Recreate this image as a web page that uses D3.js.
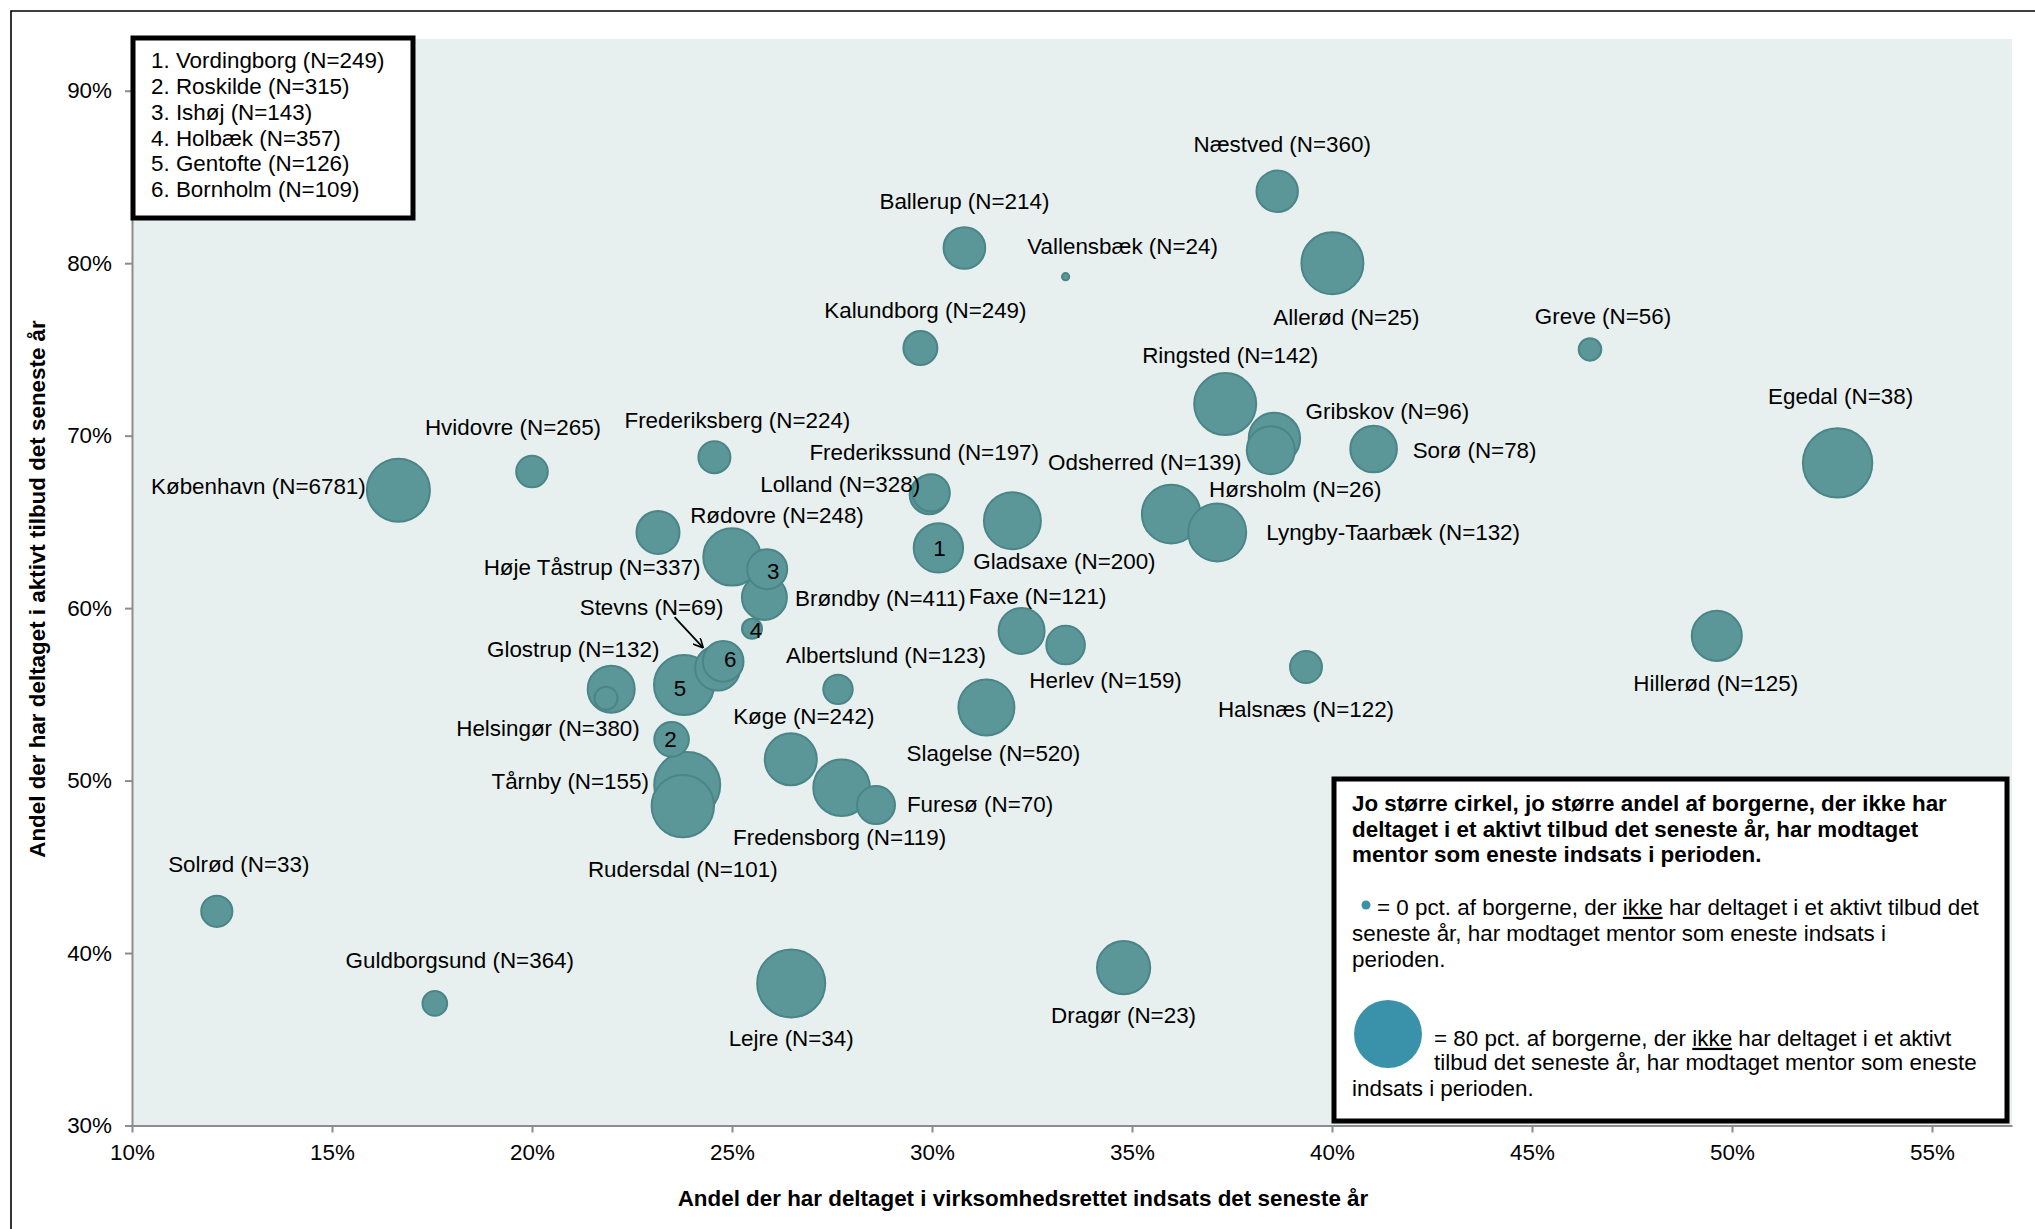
<!DOCTYPE html>
<html>
<head>
<meta charset="utf-8">
<script src="https://cdn.jsdelivr.net/npm/d3@7/dist/d3.min.js"></script>
<style>
    body { margin: 0; background: #fff; }
    svg text { font-family: "Liberation Sans", Arial, Helvetica, sans-serif; fill: #000; }
</style>
</head>
<body>
<svg id="chart" width="2035" height="1229"></svg>
<script>
// Kommuner, antal borgere (N) og andele
const municipalities = [
    "København", "Hvidovre", "Frederiksberg", "Rødovre", "Høje Tåstrup", "Ishøj",
    "Brøndby", "Holbæk", "Glostrup", "Helsingør", "Gentofte", "Bornholm",
    "Stevns", "Roskilde", "Tårnby", "Rudersdal", "Albertslund", "Køge",
    "Fredensborg", "Furesø", "Slagelse", "Faxe", "Herlev", "Halsnæs",
    "Lejre", "Dragør", "Næstved", "Allerød", "Greve", "Ringsted",
    "Gribskov", "Odsherred", "Sorø", "Hørsholm", "Lyngby-Taarbæk", "Egedal",
    "Hillerød", "Ballerup", "Vallensbæk", "Kalundborg", "Lolland", "Frederikssund",
    "Vordingborg", "Gladsaxe", "Solrød", "Guldborgsund"
];
const nValues = [
    6781, 265, 224, 248, 337, 143,
    411, 357, 132, 380, 126, 109,
    69, 315, 155, 101, 123, 242,
    119, 70, 520, 121, 159, 122,
    34, 23, 360, 25, 56, 142,
    96, 139, 78, 26, 132, 38,
    125, 214, 24, 249, 328, 197,
    249, 200, 33, 364
];
// x: andel der har deltaget i virksomhedsrettet indsats
const virksomhedShare = [
    0.1666, 0.2000, 0.2456, 0.2315, 0.2500, 0.2588,
    0.2581, 0.2550, 0.2198, 0.2185, 0.2380, 0.2478,
    0.2464, 0.2349, 0.2388, 0.2377, 0.2765, 0.2647,
    0.2774, 0.2860, 0.3136, 0.3224, 0.3334, 0.3935,
    0.2648, 0.3479, 0.3863, 0.4001, 0.4645, 0.3733,
    0.3856, 0.3847, 0.4104, 0.3598, 0.3713, 0.5264,
    0.4962, 0.3081, 0.3334, 0.2971, 0.2993, 0.2998,
    0.3016, 0.3201, 0.1212, 0.1757
];
// y: andel der har deltaget i aktivt tilbud
const aktivtShare = [
    0.6684, 0.6792, 0.6875, 0.6439, 0.6297, 0.6226,
    0.6062, 0.5881, 0.5530, 0.5477, 0.5554, 0.5691,
    0.5652, 0.5239, 0.4974, 0.4852, 0.5529, 0.5123,
    0.4958, 0.4858, 0.5424, 0.5868, 0.5786, 0.5658,
    0.3824, 0.3915, 0.8417, 0.8000, 0.7500, 0.7183,
    0.6984, 0.6916, 0.6923, 0.6545, 0.6439, 0.6842,
    0.5839, 0.8088, 0.7922, 0.7508, 0.6658, 0.6668,
    0.6349, 0.6507, 0.4242, 0.3708
];
// boblestørrelse: andel med mentor som eneste indsats
const mentorShare = [
    0.687, 0.173, 0.177, 0.320, 0.570, 0.277,
    0.350, 0.069, 0.382, 0.092, 0.623, 0.285,
    0.350, 0.207, 0.754, 0.674, 0.150, 0.468,
    0.554, 0.250, 0.543, 0.366, 0.258, 0.177,
    0.800, 0.490, 0.297, 0.665, 0.088, 0.665,
    0.457, 0.399, 0.376, 0.594, 0.582, 0.833,
    0.433, 0.300, 0.009, 0.200, 0.263, 0.240,
    0.422, 0.562, 0.168, 0.105
];
// nummererede kommuner (vist med tal i boblen)
const numberedNames = ["Vordingborg", "Roskilde", "Ishøj", "Holbæk", "Gentofte", "Bornholm"];

const xTicks = [0.10, 0.15, 0.20, 0.25, 0.30, 0.35, 0.40, 0.45, 0.50, 0.55];
const yTicks = [0.30, 0.40, 0.50, 0.60, 0.70, 0.80, 0.90];

// label placering, pixel-forskydning fra boblens centrum
const labelOffsets = [
    [-140, -4], [-19, -44], [23, -37], [119, -17], [-140, 10], [6, 2],
    [116, 1], [4, 2], [-38, -40], [-58, 30], [-4, 3], [7, -2],
    [-66, -61], [-1, 0], [-117, -4], [0, 63], [48, -34], [13, -43],
    [-2, 49], [104, -1], [7, 46], [16, -35], [40, 35], [0, 42],
    [0, 55], [0, 47], [5, -47], [14, 54], [13, -33], [5, -49],
    [113, -27], [-126, 12], [101, 1], [124, -25], [176, 0], [3, -67],
    [-1, 47], [0, -47], [57, -30], [5, -38], [-89, -10], [-7, -41],
    [1, 0], [52, 40], [22, -47], [25, -43]
];

const data = municipalities.map((name, i) => ({
    name: name,
    n: nValues[i],
    x: virksomhedShare[i],
    y: aktivtShare[i],
    size: mentorShare[i],
    num: numberedNames.indexOf(name) + 1,
    off: labelOffsets[i]
}));

const svg = d3.select("#chart");
const plot = {left: 132, right: 2012, top: 39, bottom: 1125.5};
const FONT = 22.4;

const x = d3.scaleLinear().domain([0.10, 0.57]).range([plot.left, plot.right]);
const y = d3.scaleLinear().domain([0.30, 0.93]).range([plot.bottom, plot.top]);
const r = d3.scaleSqrt().domain([0, 0.8]).range([0, 34]);

// ydre ramme
svg.append("path")
    .attr("d", "M11,1229V11H2035")
    .attr("fill", "none")
    .attr("stroke", "#000")
    .attr("stroke-width", 1.6);

// plotområde
svg.append("rect")
    .attr("x", plot.left).attr("y", plot.top)
    .attr("width", plot.right - plot.left)
    .attr("height", plot.bottom - plot.top)
    .attr("fill", "#e8f0ef");

// akser
const xAxis = svg.append("g")
    .attr("transform", `translate(0,${plot.bottom})`)
    .call(d3.axisBottom(x).tickValues(xTicks).tickFormat(d3.format(".0%")).tickSize(7).tickPadding(12).tickSizeOuter(0));
const yAxis = svg.append("g")
    .attr("transform", `translate(${plot.left},0)`)
    .call(d3.axisLeft(y).tickValues(yTicks).tickFormat(d3.format(".0%")).tickSize(7).tickPadding(13).tickSizeOuter(0));

[xAxis, yAxis].forEach(ax => {
    ax.select(".domain").attr("stroke", "#8c8c8c").attr("stroke-width", 2);
    ax.selectAll(".tick line").attr("stroke", "#8c8c8c").attr("stroke-width", 2);
    ax.selectAll(".tick text").attr("font-size", FONT).attr("fill", "#000")
        .style("font-family", '"Liberation Sans", Arial, sans-serif');
});

// aksetitler
svg.append("text")
    .attr("x", 1023).attr("y", 1198)
    .attr("text-anchor", "middle").attr("dy", "0.35em")
    .attr("font-size", FONT).attr("font-weight", "bold")
    .text("Andel der har deltaget i virksomhedsrettet indsats det seneste år");
svg.append("text")
    .attr("transform", "translate(37,589) rotate(-90)")
    .attr("text-anchor", "middle").attr("dy", "0.35em")
    .attr("font-size", FONT).attr("font-weight", "bold")
    .text("Andel der har deltaget i aktivt tilbud det seneste år");

// bobler, største først
const sorted = data.slice().sort((a, b) => b.size - a.size);
svg.append("g").selectAll("circle")
    .data(sorted)
    .enter().append("circle")
    .attr("cx", d => x(d.x))
    .attr("cy", d => y(d.y))
    .attr("r", d => r(d.size))
    .attr("fill", "#5b9699")
    .attr("stroke", "#4a8587")
    .attr("stroke-width", 2);

// labels
svg.append("g").selectAll("text")
    .data(data)
    .enter().append("text")
    .attr("x", d => x(d.x) + d.off[0])
    .attr("y", d => y(d.y) + d.off[1])
    .attr("text-anchor", "middle")
    .attr("dy", "0.35em")
    .attr("font-size", FONT)
    .text(d => d.num ? d.num : `${d.name} (N=${d.n})`);

// pil for Stevns
svg.append("defs").append("marker")
    .attr("id", "arrow")
    .attr("viewBox", "0 0 10 10")
    .attr("refX", 9).attr("refY", 5)
    .attr("markerWidth", 10).attr("markerHeight", 10)
    .attr("markerUnits", "userSpaceOnUse")
    .attr("orient", "auto")
    .append("path")
    .attr("d", "M0,0L10,5L0,10")
    .attr("fill", "none").attr("stroke", "#000").attr("stroke-width", 1.6);
const stevns = data.find(d => d.name === "Stevns");
svg.append("line")
    .attr("x1", x(stevns.x) - 43).attr("y1", y(stevns.y) - 51)
    .attr("x2", x(stevns.x) - 15).attr("y2", y(stevns.y) - 21)
    .attr("stroke", "#000").attr("stroke-width", 1.8)
    .attr("marker-end", "url(#arrow)");

// forklaring 1: nummererede kommuner
const leg1 = svg.append("g");
leg1.append("rect")
    .attr("x", 133).attr("y", 38).attr("width", 280).attr("height", 180)
    .attr("fill", "#fff").attr("stroke", "#000").attr("stroke-width", 5);
numberedNames.forEach((name, i) => {
    const d = data.find(e => e.name === name);
    leg1.append("text")
        .attr("x", 151).attr("y", 60 + i * 25.9)
        .attr("dy", "0.35em")
        .attr("font-size", FONT)
        .text(`${i + 1}. ${name} (N=${d.n})`);
});

// forklaring 2: boblestørrelse
const leg2 = svg.append("g");
leg2.append("rect")
    .attr("x", 1334).attr("y", 779).attr("width", 673).attr("height", 342)
    .attr("fill", "#fff").attr("stroke", "#000").attr("stroke-width", 5);
const heading = [
    "Jo større cirkel, jo større andel af borgerne, der ikke har",
    "deltaget i et aktivt tilbud det seneste år, har modtaget",
    "mentor som eneste indsats i perioden."
];
heading.forEach((t, i) => {
    leg2.append("text")
        .attr("x", 1352).attr("y", 803 + i * 25.8).attr("dy", "0.35em")
        .attr("font-size", FONT).attr("font-weight", "bold")
        .text(t);
});
const sizeKey = [0, 0.8];
leg2.append("circle")
    .attr("cx", 1366).attr("cy", 905).attr("r", Math.max(r(sizeKey[0]), 4.5))
    .attr("fill", "#3a92aa");
leg2.append("circle")
    .attr("cx", 1388).attr("cy", 1034).attr("r", r(sizeKey[1]))
    .attr("fill", "#3a92aa");

function keyLine(xPos, yPos, parts) {
    const t = leg2.append("text").attr("x", xPos).attr("y", yPos).attr("dy", "0.35em").attr("font-size", FONT);
    parts.forEach(p => {
        const s = t.append("tspan").text(p.text);
        if (p.u) s.attr("text-decoration", "underline");
    });
}
keyLine(1377, 907, [
    {text: `= ${sizeKey[0] * 100} pct. af borgerne, der `}, {text: "ikke", u: true},
    {text: " har deltaget i et aktivt tilbud det"}
]);
keyLine(1352, 933, [{text: "seneste år, har modtaget mentor som eneste indsats i"}]);
keyLine(1352, 959, [{text: "perioden."}]);
keyLine(1434, 1038, [
    {text: `= ${sizeKey[1] * 100} pct. af borgerne, der `}, {text: "ikke", u: true},
    {text: " har deltaget i et aktivt"}
]);
keyLine(1434, 1062, [{text: "tilbud det seneste år, har modtaget mentor som eneste"}]);
keyLine(1352, 1088, [{text: "indsats i perioden."}]);
</script>
</body>
</html>
